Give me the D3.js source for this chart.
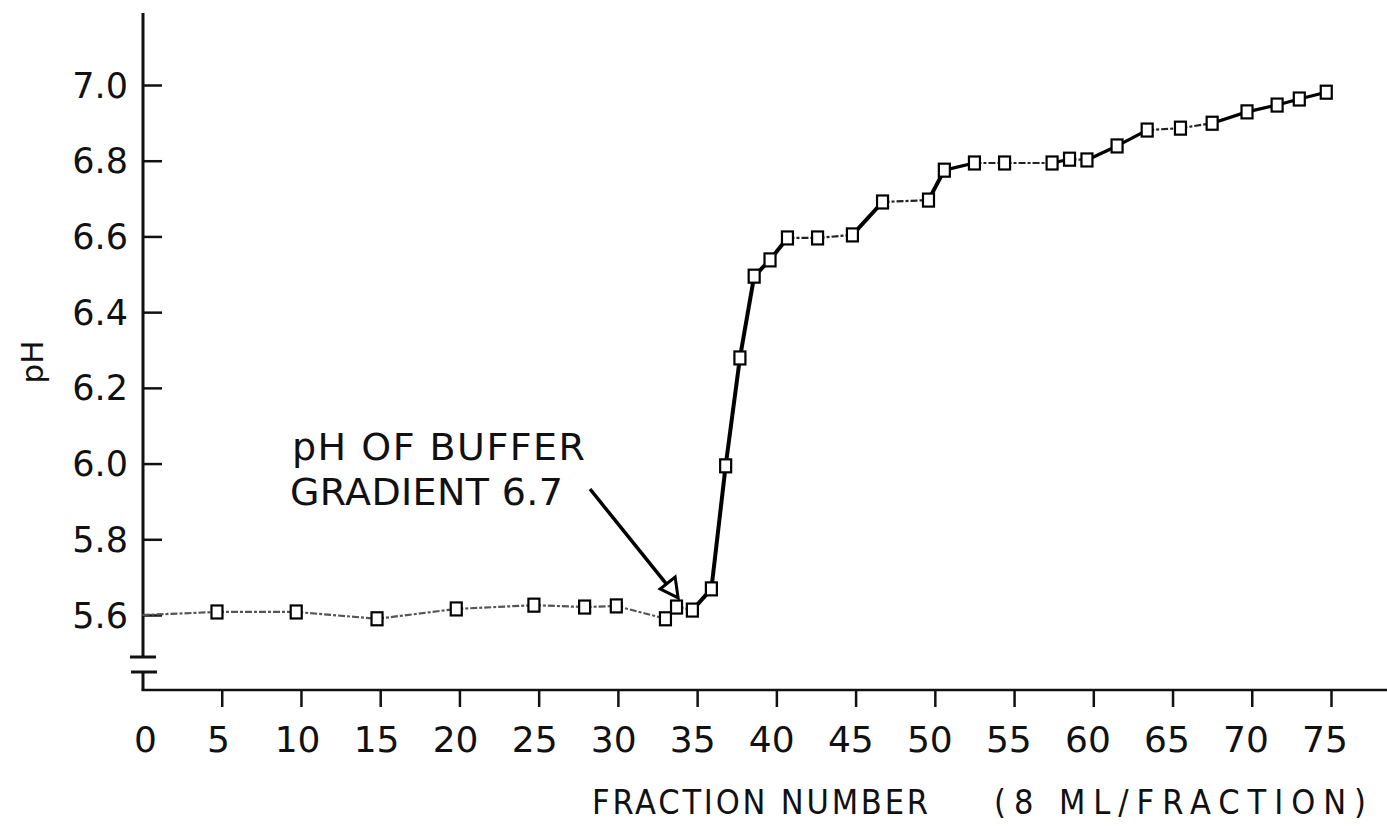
<!DOCTYPE html>
<html>
<head>
<meta charset="utf-8">
<script src="https://cdn.jsdelivr.net/npm/d3@7/dist/d3.min.js"></script>
<style>
  html, body { margin: 0; padding: 0; background: #fff; }
  svg { display: block; }
  text { font-family: "DejaVu Sans", "Liberation Sans", sans-serif; fill: #111; }
</style>
</head>
<body>
<svg id="chart" width="1387" height="826"></svg>
<script>
// ---- data ----
const fractions = [0, 4.7, 9.7, 14.8, 19.8, 24.7, 27.9, 29.9, 33.0, 33.7, 34.7, 35.9, 36.8, 37.7, 38.6, 39.6, 40.7, 42.6, 44.8, 46.7, 49.6, 50.6, 52.5, 54.4, 57.4, 58.5, 59.6, 61.5, 63.4, 65.5, 67.5, 69.7, 71.6, 73.0, 74.7];
const phValues  = [5.60, 5.608, 5.608, 5.59, 5.616, 5.626, 5.621, 5.624, 5.59, 5.621, 5.613, 5.669, 5.994, 6.279, 6.495, 6.538, 6.596, 6.596, 6.604, 6.691, 6.696, 6.775, 6.794, 6.794, 6.794, 6.804, 6.802, 6.839, 6.881, 6.886, 6.899, 6.929, 6.947, 6.963, 6.981];
const xTicks = [0, 5, 10, 15, 20, 25, 30, 35, 40, 45, 50, 55, 60, 65, 70, 75];
const yTicks = [5.6, 5.8, 6.0, 6.2, 6.4, 6.6, 6.8, 7.0];
const xTitleA = "FRACTION  NUMBER";
const xTitleB = "(8 ML/FRACTION)";
const yTitle = "pH";
const noteLines = ["pH  OF  BUFFER", "GRADIENT  6.7"];
const notePoint = {fraction: 33.8, ph: 5.645};
const plateauEnd = 35;

const svg = d3.select("#chart");
const x = d3.scaleLinear().domain([0, 75]).range([142.5, 1331]);
const y = d3.scaleLinear().domain([5.6, 7.0]).range([615, 85]);

const axisX = 143, axisYbottom = 690, yTop = 13;

// y axis line (with break)
const g = svg.append("g");
g.append("line").attr("x1", axisX).attr("x2", axisX).attr("y1", yTop).attr("y2", 657)
  .attr("stroke", "#111").attr("stroke-width", 3);
g.append("line").attr("x1", 130).attr("x2", 156).attr("y1", 657).attr("y2", 657)
  .attr("stroke", "#111").attr("stroke-width", 3);
g.append("line").attr("x1", 131).attr("x2", 157).attr("y1", 672).attr("y2", 672)
  .attr("stroke", "#111").attr("stroke-width", 3);
g.append("line").attr("x1", axisX).attr("x2", axisX).attr("y1", 672).attr("y2", axisYbottom)
  .attr("stroke", "#111").attr("stroke-width", 3);
// x axis line
g.append("line").attr("x1", axisX - 1.5).attr("x2", 1387).attr("y1", axisYbottom).attr("y2", axisYbottom)
  .attr("stroke", "#111").attr("stroke-width", 2.5);

// y ticks via d3 axis
const yAxis = d3.axisRight(y).tickValues(yTicks).tickSize(19).tickFormat("");
const yg = svg.append("g").attr("transform", `translate(${axisX},0)`).call(yAxis);
yg.select(".domain").remove();
yg.selectAll(".tick line").attr("stroke", "#111").attr("stroke-width", 2.5);
svg.append("g").selectAll("text").data(yTicks).join("text")
  .attr("x", 128).attr("y", d => y(d)).attr("dy", "0.36em")
  .attr("text-anchor", "end").attr("font-size", 35)
  .text(d => d.toFixed(1));

// x ticks via d3 axis
const xAxis = d3.axisBottom(x).tickValues(xTicks.filter(d => d > 0)).tickSize(17).tickFormat("");
const xg = svg.append("g").attr("transform", `translate(0,${axisYbottom})`).call(xAxis);
xg.select(".domain").remove();
xg.selectAll(".tick line").attr("stroke", "#111").attr("stroke-width", 2.5);
svg.append("g").selectAll("text").data(xTicks).join("text")
  .attr("x", d => x(d) - 3 - d * 0.04 + (d === 0 ? 6 : 0)).attr("y", 752)
  .attr("text-anchor", "middle").attr("font-size", 36)
  .text(d => String(d));

// axis titles
const condensed = "'DejaVu Sans Condensed', 'DejaVu Sans', sans-serif";
svg.append("text").attr("x", 592).attr("y", 814).attr("font-size", 34)
  .style("font-family", condensed)
  .attr("textLength", 336).attr("lengthAdjust", "spacing").text(xTitleA);
svg.append("text").attr("x", 994).attr("y", 814).attr("font-size", 34)
  .style("font-family", condensed)
  .attr("textLength", 372).attr("lengthAdjust", "spacing").text(xTitleB);
svg.append("text").attr("transform", "translate(43,362) rotate(-90)")
  .attr("text-anchor", "middle").attr("font-size", 31).text(yTitle);

// data line, drawn segment by segment
const pts = fractions.map((f, i) => [x(f), y(phValues[i]), f]);
const segs = d3.pairs(pts);
svg.append("g").selectAll("line").data(segs).join("line")
  .attr("x1", d => d[0][0]).attr("y1", d => d[0][1])
  .attr("x2", d => d[1][0]).attr("y2", d => d[1][1])
  .each(function(d) {
    const s = Math.abs((d[1][1] - d[0][1]) / (d[1][0] - d[0][0]));
    const sel = d3.select(this);
    if (d[1][2] < plateauEnd) sel.attr("stroke", "#555").attr("stroke-width", 2.2).attr("stroke-dasharray", "7 2 3 2");
    else if (s > 0.7) sel.attr("stroke", "#000").attr("stroke-width", 4);
    else if (s > 0.2) sel.attr("stroke", "#000").attr("stroke-width", 3.2);
    else sel.attr("stroke", "#222").attr("stroke-width", 2.2).attr("stroke-dasharray", "7 2 3 2");
  });

// markers (open squares), skip the origin point
svg.append("g").selectAll("rect").data(pts.slice(1)).join("rect")
  .attr("x", d => d[0] - 5.5).attr("y", d => d[1] - 6.5)
  .attr("width", 11).attr("height", 13)
  .attr("fill", "#fff").attr("stroke", "#000").attr("stroke-width", 2.2);

// annotation
svg.append("text").attr("x", 292).attr("y", 460).attr("font-size", 38)
  .attr("textLength", 293).attr("lengthAdjust", "spacing").text(noteLines[0]);
svg.append("text").attr("x", 290).attr("y", 505).attr("font-size", 38)
  .attr("textLength", 273).attr("lengthAdjust", "spacing").text(noteLines[1]);
const tip = [x(notePoint.fraction), y(notePoint.ph)];
svg.append("line").attr("x1", 590).attr("y1", 489).attr("x2", tip[0] - 11).attr("y2", tip[1] - 13)
  .attr("stroke", "#000").attr("stroke-width", 3.5);
svg.append("path")
  .attr("d", `M${tip[0]},${tip[1]} L${tip[0] - 18},${tip[1] - 9} L${tip[0] - 3},${tip[1] - 21} Z`)
  .attr("fill", "#fff").attr("stroke", "#000").attr("stroke-width", 3).attr("stroke-linejoin", "miter");
</script>
</body>
</html>
